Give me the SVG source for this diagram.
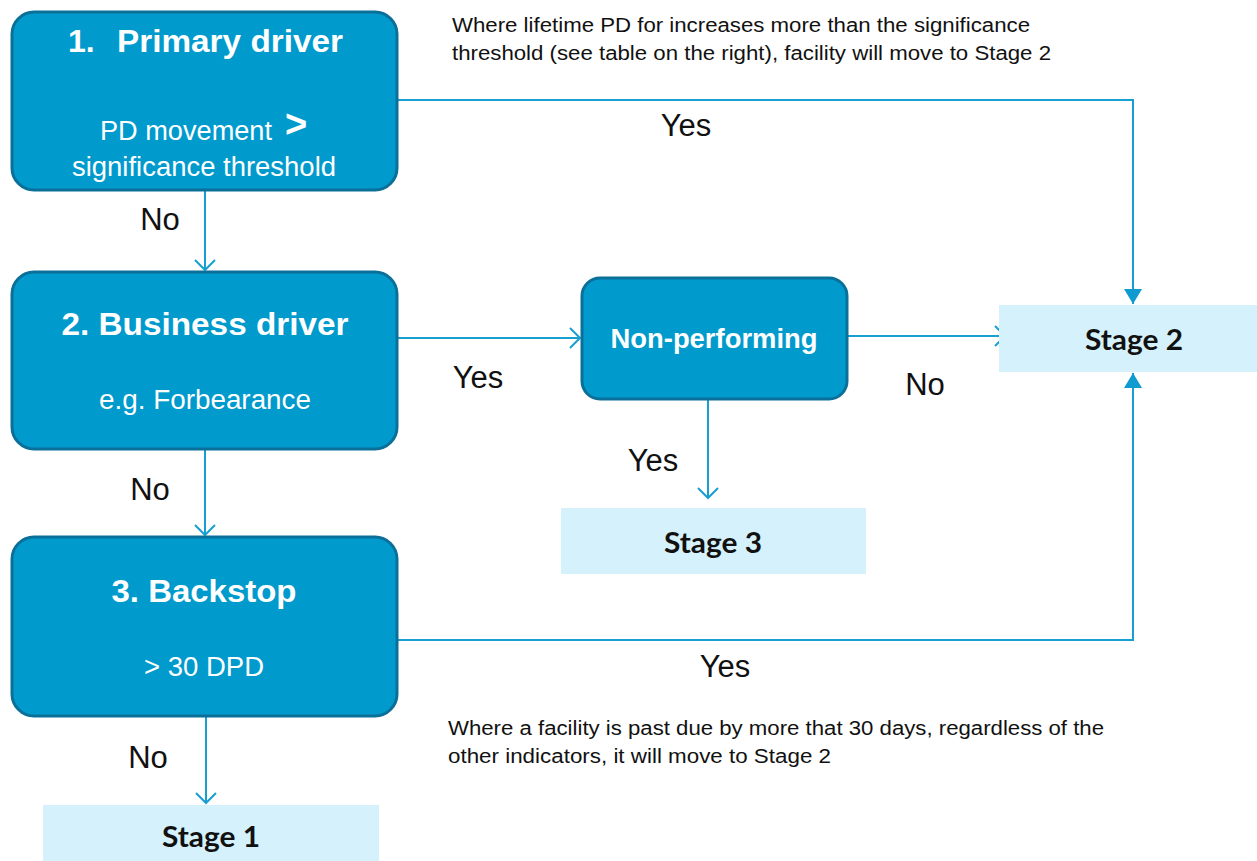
<svg xmlns="http://www.w3.org/2000/svg" width="1257" height="861" viewBox="0 0 1257 861">
<style>
.box{fill:#009acd;stroke:#0b7099;stroke-width:3}
.stage{fill:#d5f1fc}
.t{font-family:"Liberation Sans",Arial,sans-serif;fill:#fff;text-anchor:middle}
.t.s{text-anchor:start}
.b{font-weight:bold}
.st{font-family:Lato,"Liberation Sans",Arial,sans-serif;font-weight:bold;font-size:28px;fill:#111;text-anchor:middle}
.lbl{font-family:"Liberation Sans",Arial,sans-serif;font-size:31px;fill:#111;text-anchor:middle}
.note{font-family:"Liberation Sans",Arial,sans-serif;font-size:20px;fill:#111}
.c{fill:none;stroke:#189fd2;stroke-width:2}
</style>
<defs>
<marker id="open" markerWidth="24" markerHeight="24" refX="11" refY="12" orient="auto" markerUnits="userSpaceOnUse">
<path d="M1,2 L11,12 L1,22" fill="none" stroke="#189fd2" stroke-width="2"/>
</marker>
<marker id="fill" markerWidth="20" markerHeight="20" refX="15" refY="9" orient="auto" markerUnits="userSpaceOnUse">
<path d="M0,0 L15,9 L0,18 Z" fill="#0f9bd0"/>
</marker>
</defs>
<g id="connectors">
<path class="c" d="M397,100 H1133 V304" marker-end="url(#fill)"/>
<path class="c" d="M205,190 V270" marker-end="url(#open)"/>
<path class="c" d="M397,338 H580" marker-end="url(#open)"/>
<path class="c" d="M847,336 H1005" marker-end="url(#open)"/>
<path class="c" d="M708,399 V498" marker-end="url(#open)"/>
<path class="c" d="M205,449 V535" marker-end="url(#open)"/>
<path class="c" d="M397,640 H1133 V373" marker-end="url(#fill)"/>
<path class="c" d="M206,716 V803" marker-end="url(#open)"/>
<text class="lbl" x="686" y="136">Yes</text>
<text class="lbl" x="160" y="230">No</text>
<text class="lbl" x="478" y="388">Yes</text>
<text class="lbl" x="925" y="395">No</text>
<text class="lbl" x="653" y="471">Yes</text>
<text class="lbl" x="150" y="500">No</text>
<text class="lbl" x="725" y="677">Yes</text>
<text class="lbl" x="148" y="768">No</text>
</g>
<g id="primary">
<rect class="box" x="12" y="12" width="385" height="178" rx="22"/>
<text class="t b s" x="68" y="52" font-size="32">1.</text>
<text class="t b s" x="117" y="52" font-size="32" textLength="226" lengthAdjust="spacingAndGlyphs">Primary driver</text>
<text class="t s" x="100" y="140" font-size="27" textLength="172" lengthAdjust="spacingAndGlyphs">PD movement</text>
<text class="t b s" x="285" y="137" font-size="38">&gt;</text>
<text class="t" x="204" y="176" font-size="27" textLength="264" lengthAdjust="spacingAndGlyphs">significance threshold</text>
</g>
<g id="business">
<rect class="box" x="12" y="272" width="385" height="177" rx="22"/>
<text class="t b" x="205" y="335" font-size="32" textLength="287" lengthAdjust="spacingAndGlyphs">2. Business driver</text>
<text class="t" x="205" y="409" font-size="27" textLength="212" lengthAdjust="spacingAndGlyphs">e.g. Forbearance</text>
</g>
<g id="backstop">
<rect class="box" x="12" y="537" width="385" height="179" rx="22"/>
<text class="t b" x="204" y="602" font-size="32" textLength="185" lengthAdjust="spacingAndGlyphs">3. Backstop</text>
<text class="t" x="204" y="676" font-size="27" textLength="120" lengthAdjust="spacingAndGlyphs">&gt; 30 DPD</text>
</g>
<g id="nonperforming">
<rect class="box" x="582" y="278" width="265" height="121" rx="18"/>
<text class="t b" x="714" y="348" font-size="27" textLength="207" lengthAdjust="spacingAndGlyphs">Non-performing</text>
</g>
<g id="stage2">
<rect class="stage" x="999" y="305" width="258" height="67"/>
<text class="st" x="1134" y="350" textLength="98" lengthAdjust="spacingAndGlyphs">Stage 2</text>
</g>
<g id="stage3">
<rect class="stage" x="561" y="508" width="305" height="66"/>
<text class="st" x="713" y="553" textLength="98" lengthAdjust="spacingAndGlyphs">Stage 3</text>
</g>
<g id="stage1">
<rect class="stage" x="43" y="805" width="336" height="56"/>
<text class="st" x="211" y="847" textLength="98" lengthAdjust="spacingAndGlyphs">Stage 1</text>
</g>
<g id="notes">
<text class="note" x="452" y="32" textLength="578" lengthAdjust="spacingAndGlyphs">Where lifetime PD for increases more than the significance</text>
<text class="note" x="452" y="60" textLength="599" lengthAdjust="spacingAndGlyphs">threshold  (see table on the right), facility will move to Stage 2</text>
<text class="note" x="448" y="735" textLength="656" lengthAdjust="spacingAndGlyphs">Where a facility is past due by more that 30 days, regardless of the</text>
<text class="note" x="448" y="763" textLength="383" lengthAdjust="spacingAndGlyphs">other indicators, it will move to Stage 2</text>
</g>
</svg>
